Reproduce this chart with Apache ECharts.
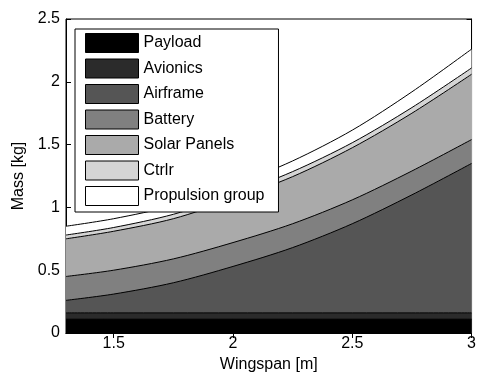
<!DOCTYPE html>
<html>
<head>
<meta charset="utf-8">
<script src="https://cdn.jsdelivr.net/npm/echarts@6/dist/echarts.min.js"></script>
<style>
    html, body { margin: 0; padding: 0; background: #fff; }
    #massChart { width: 479px; height: 381px; }
</style>
</head>
<body>
<div id="massChart"></div>
<script>
    // wingspan samples [m] and mass of each component [kg]
    const wingspan = [1.3, 1.5, 1.75, 2.0, 2.25, 2.5, 2.75, 3.0];
    const payload = [0.11, 0.11, 0.11, 0.11, 0.11, 0.11, 0.11, 0.11];
    const avionics = [0.05, 0.05, 0.05, 0.05, 0.05, 0.05, 0.05, 0.05];
    const airframe = [0.10, 0.15, 0.24, 0.37, 0.52, 0.71, 0.94, 1.19];
    const battery = [0.19, 0.19, 0.19, 0.19, 0.19, 0.19, 0.19, 0.19];
    const solarPanels = [0.30, 0.31, 0.32, 0.345, 0.375, 0.415, 0.46, 0.52];
    const ctrlr = [0.03, 0.03, 0.035, 0.035, 0.04, 0.04, 0.045, 0.05];
    const propulsion = [0.07, 0.07, 0.07, 0.075, 0.085, 0.10, 0.125, 0.15];

    const xTicks = [1.5, 2, 2.5, 3];

    const layers = [
        { name: 'Payload', data: payload, color: '#000000' },
        { name: 'Avionics', data: avionics, color: '#2b2b2b' },
        { name: 'Airframe', data: airframe, color: '#555555' },
        { name: 'Battery', data: battery, color: '#808080' },
        { name: 'Solar Panels', data: solarPanels, color: '#aaaaaa' },
        { name: 'Ctrlr', data: ctrlr, color: '#d5d5d5' },
        { name: 'Propulsion group', data: propulsion, color: '#ffffff' }
    ];

    // cumulative tops, drawn top layer first so lower areas cover it
    let running = wingspan.map(() => 0);
    let series = layers.map(function (layer) {
        running = running.map((v, i) => v + layer.data[i]);
        return {
            name: layer.name,
            type: 'line',
            smooth: 0.3,
            showSymbol: false,
            silent: true,
            itemStyle: { color: layer.color },
            lineStyle: { color: '#000', width: 1 },
            areaStyle: { color: layer.color, opacity: 1, origin: 'start' },
            data: wingspan.map((x, i) => [x, +running[i].toFixed(3)])
        };
    }).reverse();

    const font = 'Liberation Sans, Arial, sans-serif';

    let option = {
        animation: false,
        textStyle: { fontFamily: font },
        grid: {
            left: 66,
            right: 4,
            top: 19,
            bottom: 48,
            show: true,
            borderColor: '#000',
            borderWidth: 1
        },
        legend: {
            data: layers.map(l => l.name),
            orient: 'vertical',
            left: 75,
            top: 29,
            icon: 'rect',
            itemWidth: 53,
            itemHeight: 19,
            itemGap: 5.5,
            padding: [4, 14, 6, 10],
            borderColor: '#000',
            borderWidth: 1,
            backgroundColor: '#fff',
            selectedMode: false,
            itemStyle: { borderColor: '#000', borderWidth: 1 },
            textStyle: { fontSize: 16, color: '#000', fontFamily: font }
        },
        xAxis: [
            {
                type: 'value',
                min: 1.3,
                max: 3,
                name: 'Wingspan [m]',
                nameLocation: 'middle',
                nameGap: 20,
                nameTextStyle: { fontSize: 16, color: '#000' },
                axisLine: { lineStyle: { color: '#000' } },
                axisTick: { inside: true, length: 5, customValues: xTicks, lineStyle: { color: '#000' } },
                axisLabel: { customValues: xTicks, fontSize: 16, color: '#000', margin: 3 },
                splitLine: { show: false }
            },
            {
                type: 'value',
                min: 1.3,
                max: 3,
                position: 'top',
                axisLine: { lineStyle: { color: '#000' } },
                axisTick: { inside: true, length: 5, customValues: xTicks, lineStyle: { color: '#000' } },
                axisLabel: { show: false },
                splitLine: { show: false }
            }
        ],
        yAxis: [
            {
                type: 'value',
                min: 0,
                max: 2.5,
                interval: 0.5,
                name: 'Mass [kg]',
                nameLocation: 'middle',
                nameGap: 39,
                nameTextStyle: { fontSize: 16, color: '#000' },
                axisLine: { show: true, lineStyle: { color: '#000' } },
                axisTick: { show: true, inside: true, length: 5, lineStyle: { color: '#000' } },
                axisLabel: { fontSize: 16, color: '#000', margin: 6 },
                splitLine: { show: false }
            },
            {
                type: 'value',
                min: 0,
                max: 2.5,
                interval: 0.5,
                position: 'right',
                axisLine: { show: true, lineStyle: { color: '#000' } },
                axisTick: { show: true, inside: true, length: 5, lineStyle: { color: '#000' } },
                axisLabel: { show: false },
                splitLine: { show: false }
            }
        ],
        series: series
    };

    let myChart = echarts.init(document.getElementById('massChart'));
    myChart.setOption(option);
</script>
</body>
</html>
